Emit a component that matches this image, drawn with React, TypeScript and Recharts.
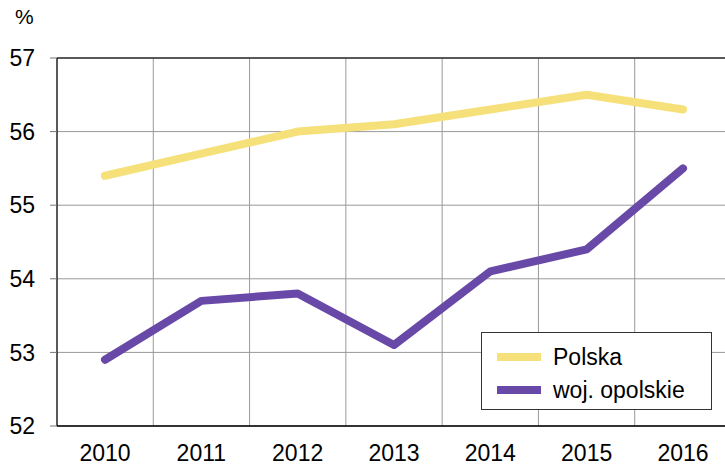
import React from 'react';
import { LineChart, Line, XAxis, YAxis, CartesianGrid, Legend, ReferenceLine } from 'recharts';

const years = ['2010', '2011', '2012', '2013', '2014', '2015', '2016'];
const polska = [55.4, 55.7, 56.0, 56.1, 56.3, 56.5, 56.3];
const opolskie = [52.9, 53.7, 53.8, 53.1, 54.1, 54.4, 55.5];
const yTicks = [52, 53, 54, 55, 56, 57];
const seriesNames = ['Polska', 'woj. opolskie'];
const seriesColors = ['#F5E07A', '#6949A8'];

const data = years.map((y, i) => ({ year: y, polska: polska[i], opolskie: opolskie[i] }));

const FONT = '"Liberation Sans", Arial, sans-serif';

const LegendBox = () => (
  <div
    style={{
      width: 229,
      height: 76,
      border: '1px solid #333',
      background: '#fff',
      boxSizing: 'content-box',
      fontFamily: FONT,
      fontSize: 23,
      color: '#000',
      position: 'relative',
    }}
  >
    {seriesNames.map((n, i) => (
      <div key={n} style={{ position: 'absolute', left: 15, top: 9 + i * 33, height: 30, display: 'flex', alignItems: 'center' }}>
        <div style={{ width: 44, height: 8, background: seriesColors[i], marginRight: 12 }} />
        <span style={{ lineHeight: '30px' }}>{n}</span>
      </div>
    ))}
  </div>
);

export default function App() {
  return (
    <div style={{ position: 'absolute', left: 0, top: 0, width: 725, height: 466, overflow: 'hidden', background: '#fff' }}>
      <div style={{ position: 'absolute', left: 15, top: 5, fontFamily: FONT, fontSize: 21, color: '#000' }}>%</div>
      <LineChart width={740} height={466} data={data} margin={{ top: 58, right: 9, left: 0, bottom: 0 }}>
        <CartesianGrid
          stroke="#999"
          strokeWidth={1}
          verticalCoordinatesGenerator={({ offset }: any) =>
            [1, 2, 3, 4, 5, 6].map((i) => offset.left + (offset.width * i) / years.length)
          }
        />
        <XAxis
          dataKey="year"
          padding={{ left: 48, right: 48 }}
          axisLine={{ stroke: '#000', strokeWidth: 1.3 }}
          tickLine={false}
          tickSize={0}
          tickMargin={19}
          height={40}
          interval={0}
          tick={{ fill: '#000', fontSize: 23, fontFamily: FONT }}
        />
        <YAxis
          domain={[52, 57]}
          ticks={yTicks}
          width={57}
          axisLine={{ stroke: '#000', strokeWidth: 1.3 }}
          tickLine={{ stroke: '#777' }}
          tickSize={7}
          tickMargin={15}
          tick={{ fill: '#000', fontSize: 23, fontFamily: FONT }}
        />
        <ReferenceLine y={57} stroke="#333" strokeWidth={1.3} />
        <Legend
          layout="horizontal"
          verticalAlign="middle"
          align="center"
          wrapperStyle={{ left: 481, top: 332, width: 231, height: 78 }}
          content={() => <LegendBox />}
        />
        <Line
          dataKey="polska"
          name={seriesNames[0]}
          stroke={seriesColors[0]}
          strokeWidth={8}
          strokeLinecap="round"
          strokeLinejoin="round"
          dot={false}
          activeDot={false}
          isAnimationActive={false}
        />
        <Line
          dataKey="opolskie"
          name={seriesNames[1]}
          stroke={seriesColors[1]}
          strokeWidth={8}
          strokeLinecap="round"
          strokeLinejoin="round"
          dot={false}
          activeDot={false}
          isAnimationActive={false}
        />
      </LineChart>
    </div>
  );
}
